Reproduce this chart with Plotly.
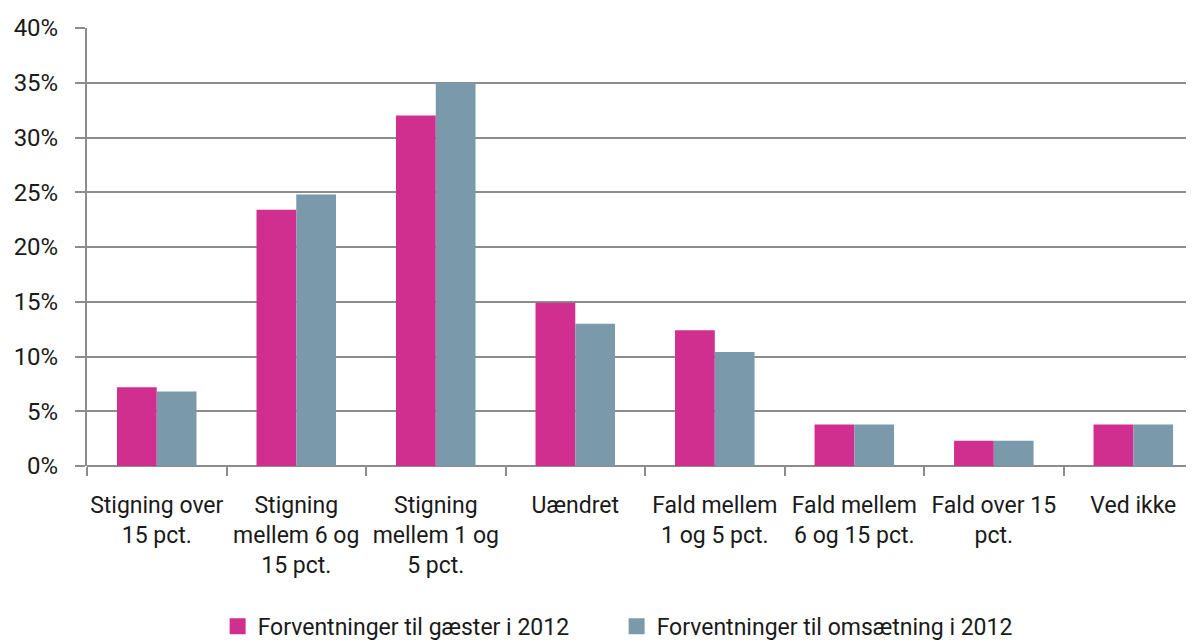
import plotly.graph_objects as go

categories = [
    "Stigning over<br>15 pct.",
    "Stigning<br>mellem 6 og<br>15 pct.",
    "Stigning<br>mellem 1 og<br>5 pct.",
    "Uændret",
    "Fald mellem<br>1 og 5 pct.",
    "Fald mellem<br>6 og 15 pct.",
    "Fald over 15<br>pct.",
    "Ved ikke",
]
guests = [7.2, 23.4, 32.0, 14.9, 12.4, 3.8, 2.3, 3.8]
turnover = [6.8, 24.8, 35.0, 13.0, 10.4, 3.8, 2.3, 3.8]
series_names = ["Forventninger til gæster i 2012", "Forventninger til omsætning i 2012"]
series_colors = ["#D12F8F", "#7A99AB"]
y_ticks = [0, 5, 10, 15, 20, 25, 30, 35, 40]
y_ticktext = [f"{v}%" for v in y_ticks]

FONT = "Roboto, Arial, sans-serif"
GRID = "#8c8c8c"

fig = go.Figure()
for vals, name, col in zip([guests, turnover], series_names, series_colors):
    fig.add_trace(go.Bar(x=categories, y=vals, name=name, showlegend=False,
                         legendgroup=name, marker=dict(color=col, line=dict(width=0))))
# legend entries with larger square swatches
for name, col in zip(series_names, series_colors):
    fig.add_trace(go.Scatter(x=[None], y=[None], mode="markers", name=name,
                             legendgroup=name,
                             marker=dict(symbol="square", size=16, color=col)))

fig.update_layout(
    width=1186, height=635,
    margin=dict(l=79, r=0, t=20, b=177, autoexpand=False),
    paper_bgcolor="white", plot_bgcolor="white",
    barmode="group", bargap=0.43, bargroupgap=0,
    font=dict(family=FONT, size=23, color="#1a1a1a"),
    showlegend=True,
    legend=dict(orientation="h", x=0.118, xanchor="left", y=-0.366, yanchor="middle",
                font=dict(size=23), itemwidth=30, traceorder="normal",
                entrywidth=354, entrywidthmode="pixels"),
    xaxis=dict(range=[-0.5, 7.435], showgrid=False, showline=False, zeroline=False,
               automargin=False,
               ticks="outside", tickson="boundaries", ticklen=9, tickwidth=2,
               tickcolor=GRID, tickfont=dict(size=23), tickangle=0,
               ticklabelstandoff=23),
    yaxis=dict(range=[0, 40], tickvals=y_ticks, ticktext=y_ticktext, showgrid=True,
               automargin=False,
               gridcolor=GRID, gridwidth=2, showline=True, linecolor=GRID, linewidth=2,
               zeroline=True, zerolinecolor=GRID, zerolinewidth=2,
               ticks="outside", ticklen=10, tickwidth=2, tickcolor=GRID,
               tickfont=dict(size=24), ticklabelstandoff=12),
)

fig.write_html("out.html")
